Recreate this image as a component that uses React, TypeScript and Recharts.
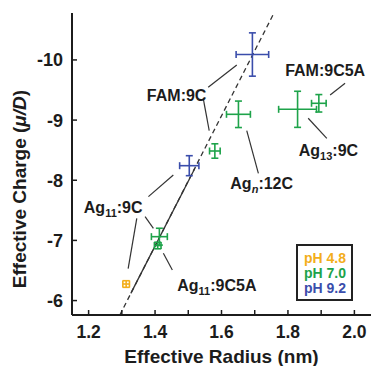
import React from "react";
import {
  ScatterChart,
  Scatter,
  XAxis,
  YAxis,
  ErrorBar,
  ReferenceLine,
  ReferenceDot,
  Legend,
} from "recharts";

const FONT = "'Liberation Sans', Arial, Helvetica, sans-serif";
const INK = "#1c1c1c";

// x ticks every 0.1 nm, labels every 0.2
const xTicks = [1.2, 1.3, 1.4, 1.5, 1.6, 1.7, 1.8, 1.9, 2.0];
const xLabels = ["1.2", "1.4", "1.6", "1.8", "2.0"];
const yTicks = [-10, -9, -8, -7, -6];

// radius (nm), charge, and their error half-widths
const ph48 = [{ x: 1.313, y: -6.275, ex: 0.01, ey: 0.055 }];
const ph70 = [
  { x: 1.408, y: -6.915, ex: 0.01, ey: 0.055 },
  { x: 1.413, y: -7.062, ex: 0.024, ey: 0.14 },
  { x: 1.58, y: -8.486, ex: 0.016, ey: 0.12 },
  { x: 1.651, y: -9.096, ex: 0.036, ey: 0.22 },
  { x: 1.829, y: -9.179, ex: 0.057, ey: 0.3 },
  { x: 1.893, y: -9.279, ex: 0.022, ey: 0.145 },
];
const ph92 = [
  { x: 1.503, y: -8.242, ex: 0.029, ey: 0.166 },
  { x: 1.693, y: -10.09, ex: 0.049, ey: 0.36 },
];

const trendDashed = [
  { x: 1.294, y: -5.76 },
  { x: 1.758, y: -10.78 },
];
const trendSolid = [
  { x: 1.327, y: -6.12 },
  { x: 1.52, y: -8.2 },
];

type Part = { t: string; sub?: boolean; it?: boolean };
const labels: { x: number; y: number; parts: Part[] }[] = [
  { x: 1.465, y: -9.417, parts: [{ t: "FAM:9C" }] },
  { x: 1.912, y: -9.833, parts: [{ t: "FAM:9C5A" }] },
  { x: 1.721, y: -7.949, parts: [{ t: "Ag" }, { t: "n", sub: true, it: true }, { t: ":12C" }] },
  { x: 1.922, y: -8.503, parts: [{ t: "Ag" }, { t: "13", sub: true }, { t: ":9C" }] },
  { x: 1.274, y: -7.56, parts: [{ t: "Ag" }, { t: "11", sub: true }, { t: ":9C" }] },
  { x: 1.586, y: -6.259, parts: [{ t: "Ag" }, { t: "11", sub: true }, { t: ":9C5A" }] },
];

const leaders = [
  { x1: 1.56, y1: -9.545, x2: 1.646, y2: -9.916 },
  { x1: 1.545, y1: -9.362, x2: 1.563, y2: -8.824 },
  { x1: 1.927, y1: -9.417, x2: 1.972, y2: -9.611 },
  { x1: 1.676, y1: -8.824, x2: 1.711, y2: -8.115 },
  { x1: 1.861, y1: -9.03, x2: 1.917, y2: -8.697 },
  { x1: 1.38, y1: -7.727, x2: 1.455, y2: -8.087 },
  { x1: 1.345, y1: -7.367, x2: 1.319, y2: -6.53 },
  { x1: 1.37, y1: -7.394, x2: 1.395, y2: -7.201 },
  { x1: 1.425, y1: -6.786, x2: 1.452, y2: -6.508 },
];

const textStyle = { fontFamily: FONT, fontWeight: 700, fill: INK };

function BottomTick(props: any) {
  const { x, y, payload } = props;
  const label = Number(payload.value).toFixed(1);
  return (
    <g>
      <line x1={x} x2={x} y1={y} y2={y - 5} stroke={INK} strokeWidth={1.5} />
      {xLabels.includes(label) && (
        <text x={x} y={y + 23} textAnchor="middle" fontSize={17.5} {...textStyle}>
          {label}
        </text>
      )}
    </g>
  );
}

function TopTick(props: any) {
  const { x, y } = props;
  return <line x1={x} x2={x} y1={y} y2={y + 5} stroke={INK} strokeWidth={1.5} />;
}

function LeftTick(props: any) {
  const { x, y, payload } = props;
  return (
    <g>
      <line x1={x} x2={x + 5} y1={y} y2={y} stroke={INK} strokeWidth={1.5} />
      <text x={x - 9} y={y + 6.5} textAnchor="end" fontSize={18} {...textStyle}>
        {String(payload.value)}
      </text>
    </g>
  );
}

function RightTick(props: any) {
  const { x, y } = props;
  return <line x1={x} x2={x - 5} y1={y} y2={y} stroke={INK} strokeWidth={1.5} />;
}

function XTitle(props: any) {
  const vb = props.viewBox;
  return (
    <text x={vb.x + vb.width / 2} y={vb.y + 48} textAnchor="middle" fontSize={19} {...textStyle}>
      Effective Radius (nm)
    </text>
  );
}

function YTitle(props: any) {
  const vb = props.viewBox;
  const cx = vb.x + 26;
  const cy = vb.y + vb.height / 2 + 25;
  return (
    <text transform={`translate(${cx},${cy}) rotate(-90)`} textAnchor="middle" fontSize={19} {...textStyle}>
      Effective Charge (<tspan fontStyle="italic">μ/D</tspan>)
    </text>
  );
}

function AnnText({ cx, cy, parts }: { cx: number; cy: number; parts: Part[] }) {
  let shifted = false;
  return (
    <text x={cx} y={cy + 6} textAnchor="middle" fontSize={16} {...textStyle}>
      {parts.map((p, i) => {
        if (p.sub) {
          shifted = true;
          return (
            <tspan key={i} fontSize={11} dy={4} fontStyle={p.it ? "italic" : undefined}>
              {p.t}
            </tspan>
          );
        }
        const dy = shifted ? -4 : undefined;
        shifted = false;
        return (
          <tspan key={i} dy={dy}>
            {p.t}
          </tspan>
        );
      })}
    </text>
  );
}

function PhLegend(props: any) {
  const items = (props.payload || []).filter((e: any) => e.type !== "none");
  return (
    <div
      style={{
        border: "2px solid #222",
        background: "#fff",
        width: 57,
        height: 57,
        boxSizing: "border-box",
        padding: "5px 0 0 6px",
        fontFamily: FONT,
        fontWeight: 700,
        fontSize: 14,
        lineHeight: "15px",
        textAlign: "left",
      }}
    >
      {items.map((e: any) => (
        <div key={e.value} style={{ color: e.color, height: 15 }}>
          {e.value}
        </div>
      ))}
    </div>
  );
}

const series = [
  { name: "pH 4.8", data: ph48, color: "#f3ae1b" },
  { name: "pH 7.0", data: ph70, color: "#1ea34a" },
  { name: "pH 9.2", data: ph92, color: "#3a4dab" },
];

export default function App() {
  return (
    <div style={{ position: "absolute", left: 0, top: 0, background: "#fff" }}>
      <ScatterChart width={372} height={366} margin={{ top: 13, right: 1, bottom: 0, left: 0 }}>
        <XAxis
          type="number"
          dataKey="x"
          domain={[1.15, 2.05]}
          ticks={xTicks}
          allowDataOverflow
          height={51}
          tickLine={false}
          tickSize={0}
          tickMargin={0}
          tick={<BottomTick />}
          axisLine={{ stroke: INK, strokeWidth: 2 }}
          label={XTitle}
        />
        <XAxis
          xAxisId="top"
          orientation="top"
          type="number"
          domain={[1.15, 2.05]}
          ticks={xTicks}
          allowDataOverflow
          height={0}
          tickLine={false}
          tickSize={0}
          tickMargin={0}
          tick={<TopTick />}
          axisLine={{ stroke: INK, strokeWidth: 2 }}
        />
        <YAxis
          type="number"
          dataKey="y"
          domain={[-10.78, -5.76]}
          ticks={yTicks}
          reversed
          allowDataOverflow
          width={72}
          tickLine={false}
          tickSize={0}
          tickMargin={0}
          tick={<LeftTick />}
          axisLine={{ stroke: INK, strokeWidth: 2 }}
          label={YTitle}
        />
        <YAxis
          yAxisId="right"
          orientation="right"
          type="number"
          domain={[-10.78, -5.76]}
          ticks={yTicks}
          reversed
          allowDataOverflow
          width={0}
          tickLine={false}
          tickSize={0}
          tickMargin={0}
          tick={<RightTick />}
          axisLine={{ stroke: INK, strokeWidth: 2 }}
        />

        <ReferenceLine
          segment={trendDashed}
          stroke="#333"
          strokeWidth={1.3}
          strokeDasharray="5 3.5"
          ifOverflow="hidden"
        />
        <ReferenceLine segment={trendSolid} stroke="#333" strokeWidth={1.3} ifOverflow="hidden" />
        {leaders.map((l, i) => (
          <ReferenceLine
            key={"ld" + i}
            segment={[
              { x: l.x1, y: l.y1 },
              { x: l.x2, y: l.y2 },
            ]}
            stroke="#333"
            strokeWidth={1.2}
          />
        ))}

        {series.map((s) => (
          <Scatter
            key={s.name}
            name={s.name}
            data={s.data}
            fill={s.color}
            shape={() => <g />}
            isAnimationActive={false}
          >
            <ErrorBar dataKey="ex" direction="x" width={3.5} stroke={s.color} strokeWidth={1.6} isAnimationActive={false} />
            <ErrorBar dataKey="ey" direction="y" width={3.5} stroke={s.color} strokeWidth={1.6} isAnimationActive={false} />
          </Scatter>
        ))}

        {labels.map((a, i) => (
          <ReferenceDot
            key={"lb" + i}
            x={a.x}
            y={a.y}
            r={1}
            shape={(p: any) => <AnnText cx={p.cx} cy={p.cy} parts={a.parts} />}
          />
        ))}

        <Legend
          layout="vertical"
          align="center"
          verticalAlign="middle"
          content={<PhLegend />}
          wrapperStyle={{ left: 296, top: 244, width: 57, height: 57 }}
        />
      </ScatterChart>
    </div>
  );
}
